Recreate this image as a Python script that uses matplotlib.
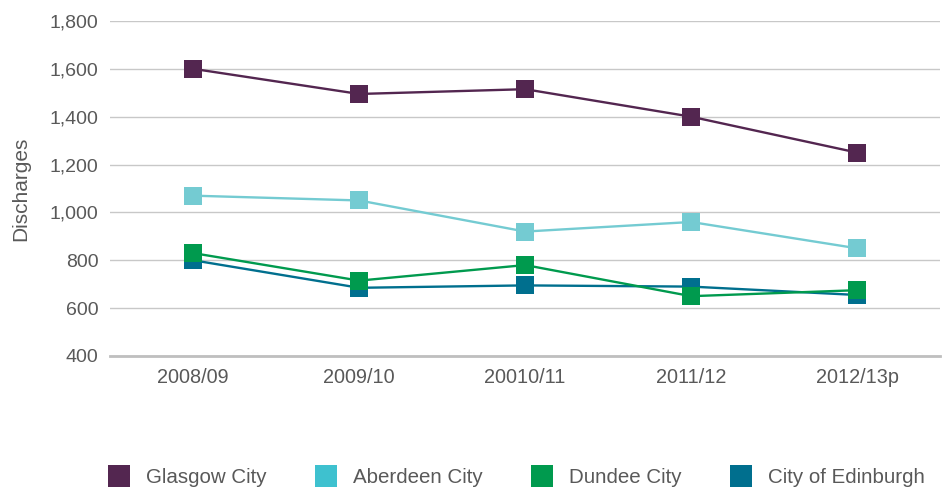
import matplotlib
matplotlib.use("Agg")
import matplotlib.pyplot as plt
from matplotlib.lines import Line2D
from matplotlib.ticker import FuncFormatter

plt.rcParams.update({
    "font.family": ["Liberation Sans", "DejaVu Sans"],
    "font.size": 14,
    "text.color": "#595959",
    "axes.labelcolor": "#595959",
    "xtick.color": "#595959",
    "ytick.color": "#595959",
})

years = ["2008/09", "2009/10", "20010/11", "2011/12", "2012/13p"]
glasgow = [1600, 1495, 1515, 1400, 1250]
aberdeen = [1070, 1050, 920, 960, 850]
dundee = [830, 715, 780, 650, 675]
edinburgh = [800, 685, 695, 690, 655]

names = ["Glasgow City", "Aberdeen City", "Dundee City", "City of Edinburgh"]
line_colors = ["#532650", "#74CBD2", "#009A4E", "#006F8E"]
legend_colors = ["#532650", "#3EC1CF", "#009A4E", "#006F8E"]

fig = plt.figure(figsize=(9.42, 4.88), dpi=100)
ax = fig.add_axes([0.117, 0.2705, 0.881, 0.6865])

x = range(len(years))
# drawn so that Dundee sits over Edinburgh
order = [(glasgow, 0), (aberdeen, 1), (edinburgh, 3), (dundee, 2)]
for vals, i in order:
    ax.plot(x, vals, color=line_colors[i], lw=1.7, marker="s",
            markersize=12.5, markeredgewidth=0, zorder=3)

ax.set_xlim(-0.5, len(years) - 0.5)
ax.set_ylim(400, 1800)
ax.set_yticks(range(400, 1801, 200))
ax.yaxis.set_major_formatter(FuncFormatter(lambda v, p: f"{int(v):,}"))
ax.set_xticks(list(x))
ax.set_xticklabels(years)
ax.tick_params(axis="y", length=0, pad=8.5, labelsize=14)
ax.tick_params(axis="x", length=0, pad=9, labelsize=14.3)
ax.grid(axis="y", color="#C8C8C8", lw=1)
ax.set_axisbelow(True)
for s in ["top", "right", "left"]:
    ax.spines[s].set_visible(False)
ax.spines["bottom"].set_color("#BFBFBF")
ax.spines["bottom"].set_linewidth(2)
ax.set_ylabel("Discharges", fontsize=15, labelpad=14)

handles = [Line2D([], [], ls="none", marker="s", markersize=16.5,
                  markerfacecolor=c, markeredgewidth=0) for c in legend_colors]
fig.legend(handles, names, loc="lower left", bbox_to_anchor=(0.095, -0.036),
           ncol=4, frameon=False, fontsize=14.8, handlelength=1.1,
           handletextpad=0.75, columnspacing=2.35)

fig.savefig("out.png", dpi=100)
